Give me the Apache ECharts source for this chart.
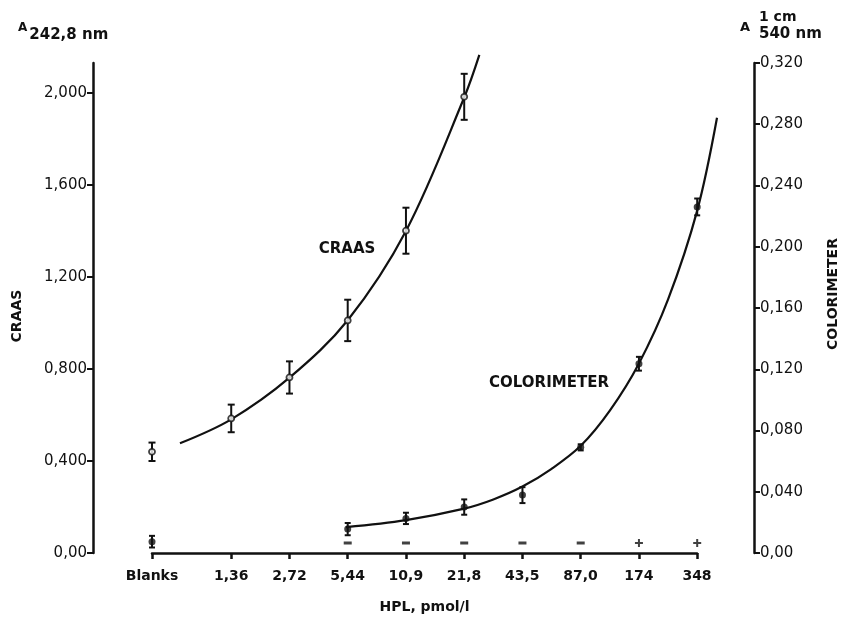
<!DOCTYPE html>
<html>
<head>
<meta charset="utf-8">
<script src="https://cdn.jsdelivr.net/npm/echarts@6/dist/echarts.min.js"></script>
<style>
  html, body { margin: 0; padding: 0; background: #fff; }
  #chart { width: 844px; height: 618px; }
</style>
</head>
<body>
<div id="chart"></div>
<script>
// x axis: Blanks + HPL concentrations (log2 spacing, Blanks set apart)
const xLabels = ['Blanks', '1,36', '2,72', '5,44', '10,9', '21,8', '43,5', '87,0', '174', '348'];
const xPos = [-1.36, 0, 1, 2, 3, 4, 5, 6, 7, 8];

// y tick labels
const leftTicks = [0, 0.4, 0.8, 1.2, 1.6, 2.0];
const leftTickLabels = ['0,00', '0,400', '0,800', '1,200', '1,600', '2,000'];
const rightTicks = [0, 0.04, 0.08, 0.12, 0.16, 0.2, 0.24, 0.28, 0.32];
const rightTickLabels = ['0,00', '0,040', '0,080', '0,120', '0,160', '0,200', '0,240', '0,280', '0,320'];

// CRAAS measurements (left axis)
const craasIdx = [0, 1, 2, 3, 4, 5];
const craasVal = [0.44, 0.585, 0.763, 1.011, 1.401, 1.983];
const craasErr = [0.04, 0.06, 0.07, 0.09, 0.10, 0.10];
// CRAAS fitted curve
const craasCurveX = [-0.88, 0, 1, 2, 3, 4, 4.26];
const craasCurveY = [0.477, 0.581, 0.762, 1.012, 1.40, 1.98, 2.165];

// colorimeter measurements (right axis)
const colIdx = [0, 3, 4, 5, 6, 7, 8, 9];
const colVal = [0.0074, 0.0156, 0.0226, 0.030, 0.0378, 0.069, 0.1236, 0.226];
const colErr = [0.0038, 0.004, 0.0037, 0.005, 0.0052, 0.002, 0.0045, 0.0055];
// colorimeter fitted curve
const colCurveX = [1.97, 3, 4, 4.5, 5, 5.5, 6, 6.5, 7, 7.5, 8, 8.34];
const colCurveY = [0.0169, 0.0215, 0.029, 0.035, 0.0434, 0.055, 0.070, 0.093, 0.1238, 0.1656, 0.2236, 0.2842];

// qualitative result under each concentration
const signIdx = [3, 4, 5, 6, 7, 8, 9];
const signs = ['-', '-', '-', '-', '-', '+', '+'];

const FONT = 'DejaVu Sans';
const INK = '#111';

function pick(ticks, labels, v) {
  for (let i = 0; i < ticks.length; i++) {
    if (Math.abs(ticks[i] - v) < 1e-9) return labels[i];
  }
  return '';
}

function errorBars(idx, vals, errs, yAxisIndex, cap) {
  return {
    type: 'custom',
    xAxisIndex: 0,
    yAxisIndex: yAxisIndex,
    z: 3,
    data: idx.map((k, i) => [xPos[k], vals[i], errs[i]]),
    renderItem: function (params, api) {
      const x = api.value(0), y = api.value(1), e = api.value(2);
      const top = api.coord([x, y + e]);
      const bot = api.coord([x, y - e]);
      const st = { stroke: INK, lineWidth: 2 };
      return {
        type: 'group',
        children: [
          { type: 'line', shape: { x1: top[0], y1: top[1], x2: bot[0], y2: bot[1] }, style: st },
          { type: 'line', shape: { x1: top[0] - cap, y1: top[1], x2: top[0] + cap, y2: top[1] }, style: st },
          { type: 'line', shape: { x1: bot[0] - cap, y1: bot[1], x2: bot[0] + cap, y2: bot[1] }, style: st }
        ]
      };
    }
  };
}

const myChart = echarts.init(document.getElementById('chart'));

const option = {
  backgroundColor: '#fff',
  animation: false,
  // grid 0 holds the data (a bit wider so the colorimeter curve can run past 348),
  // grid 1 only carries the visible x axis, which stops at 348
  grid: [
    { left: 152, right: 127, top: 63, bottom: 65, outerBoundsMode: 'none' },
    { left: 152, right: 147, top: 63, bottom: 65, outerBoundsMode: 'none' }
  ],
  xAxis: [
    {
      type: 'value',
      gridIndex: 0,
      min: -1.36,
      max: 8.34,
      show: false
    },
    {
      type: 'value',
      gridIndex: 1,
      min: -1.36,
      max: 8,
      splitLine: { show: false },
      axisLine: { onZero: false, lineStyle: { color: INK, width: 2.5 } },
      axisTick: { customValues: xPos, length: 6, lineStyle: { color: INK, width: 2.5 } },
      axisLabel: {
        customValues: xPos,
        formatter: v => pick(xPos, xLabels, v),
        color: INK, fontFamily: FONT, fontWeight: 'bold', fontSize: 14, margin: 16
      },
      name: 'HPL, pmol/l',
      nameLocation: 'middle',
      nameGap: 47,
      nameTextStyle: { color: INK, fontFamily: FONT, fontWeight: 'bold', fontSize: 14 }
    }
  ],
  yAxis: [
    {
      type: 'value',
      gridIndex: 0,
      position: 'left',
      offset: 59,
      min: 0,
      max: 2.13,
      splitLine: { show: false },
      axisLine: { show: true, onZero: false, lineStyle: { color: INK, width: 2.5 } },
      axisTick: { show: true, customValues: leftTicks, length: 6, lineStyle: { color: INK, width: 2 } },
      axisLabel: {
        customValues: leftTicks,
        formatter: v => pick(leftTicks, leftTickLabels, v),
        color: INK, fontFamily: FONT, fontSize: 15, margin: 6
      }
    },
    {
      type: 'value',
      gridIndex: 0,
      position: 'right',
      offset: 37,
      min: 0,
      max: 0.32,
      splitLine: { show: false },
      axisLine: { show: true, onZero: false, lineStyle: { color: INK, width: 2.5 } },
      axisTick: { show: true, customValues: rightTicks, length: 6, lineStyle: { color: INK, width: 2 } },
      axisLabel: {
        customValues: rightTicks,
        formatter: v => pick(rightTicks, rightTickLabels, v),
        color: INK, fontFamily: FONT, fontSize: 15, margin: 6
      }
    },
    {
      type: 'value',
      gridIndex: 1,
      min: 0,
      max: 1,
      show: false
    }
  ],
  graphic: [
    {
      type: 'text', left: 18, top: 22,
      style: {
        text: '{a|A}{b|242,8 nm}',
        rich: {
          a: { fontFamily: FONT, fontSize: 12, fontWeight: 'bold', fill: INK, verticalAlign: 'top', padding: [0, 2, 6, 0] },
          b: { fontFamily: FONT, fontSize: 15, fontWeight: 'bold', fill: INK, padding: [6, 0, 0, 0] }
        }
      }
    },
    { type: 'text', left: 740, top: 21, style: { text: 'A', fontFamily: FONT, fontSize: 13, fontWeight: 'bold', fill: INK } },
    { type: 'text', left: 759, top: 10, style: { text: '1 cm', fontFamily: FONT, fontSize: 14, fontWeight: 'bold', fill: INK } },
    { type: 'text', left: 759, top: 27, style: { text: '540 nm', fontFamily: FONT, fontSize: 15, fontWeight: 'bold', fill: INK } },
    {
      type: 'text', x: 17, y: 316, rotation: Math.PI / 2,
      style: { text: 'CRAAS', fontFamily: FONT, fontSize: 14, fontWeight: 'bold', fill: INK, align: 'center', verticalAlign: 'middle' }
    },
    {
      type: 'text', x: 833, y: 294, rotation: Math.PI / 2,
      style: { text: 'COLORIMETER', fontFamily: FONT, fontSize: 14, fontWeight: 'bold', fill: INK, align: 'center', verticalAlign: 'middle' }
    },
    {
      type: 'text', x: 347, y: 249,
      style: { text: 'CRAAS', fontFamily: FONT, fontSize: 15, fontWeight: 'bold', fill: INK, align: 'center', verticalAlign: 'middle' }
    },
    {
      type: 'text', x: 549, y: 383,
      style: { text: 'COLORIMETER', fontFamily: FONT, fontSize: 15, fontWeight: 'bold', fill: INK, align: 'center', verticalAlign: 'middle' }
    }
  ],
  series: [
    {
      type: 'line',
      xAxisIndex: 0,
      yAxisIndex: 0,
      smooth: 0.35,
      clip: false,
      symbol: 'none',
      lineStyle: { color: INK, width: 2.2 },
      data: craasCurveX.map((x, i) => [x, craasCurveY[i]])
    },
    {
      type: 'line',
      xAxisIndex: 0,
      yAxisIndex: 1,
      smooth: 0.35,
      clip: false,
      symbol: 'none',
      lineStyle: { color: INK, width: 2.2 },
      data: colCurveX.map((x, i) => [x, colCurveY[i]])
    },
    errorBars(craasIdx, craasVal, craasErr, 0, 3.5),
    errorBars(colIdx, colVal, colErr, 1, 3),
    {
      type: 'scatter',
      xAxisIndex: 0,
      yAxisIndex: 0,
      z: 5,
      symbol: 'circle',
      symbolSize: 6,
      itemStyle: { color: '#fff', borderColor: INK, borderWidth: 1.8 },
      data: craasIdx.map((k, i) => [xPos[k], craasVal[i]])
    },
    {
      type: 'scatter',
      xAxisIndex: 0,
      yAxisIndex: 1,
      z: 5,
      symbol: 'circle',
      symbolSize: 7,
      itemStyle: { color: INK },
      data: colIdx.map((k, i) => [xPos[k], colVal[i]])
    },
    {
      type: 'scatter',
      xAxisIndex: 0,
      yAxisIndex: 1,
      z: 5,
      symbolOffset: [0, -10],
      itemStyle: { color: INK },
      data: signIdx.map((k, i) => ({
        value: [xPos[k], 0],
        symbol: signs[i] === '+' ? 'path://M3,0h2v3h3v2h-3v3h-2v-3h-3v-2h3z' : 'rect',
        symbolSize: signs[i] === '+' ? [8, 8] : [8, 3]
      }))
    }
  ]
};

myChart.setOption(option);
window.addEventListener('resize', function () {
  myChart.resize();
});
</script>
</body>
</html>
